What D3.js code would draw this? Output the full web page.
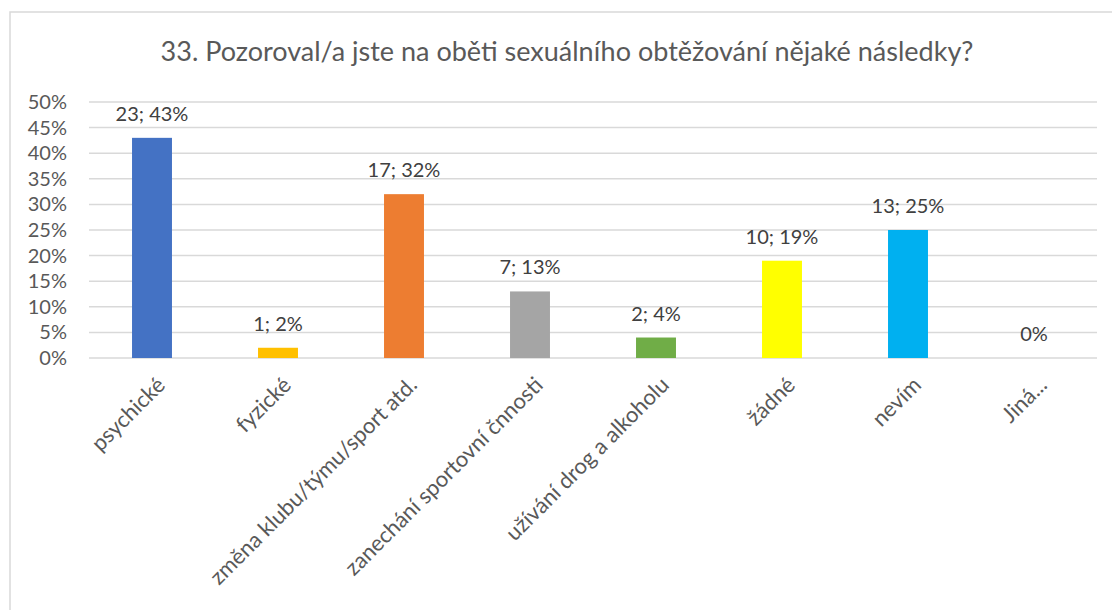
<!DOCTYPE html>
<html>
<head>
<meta charset="utf-8">
<script src="https://cdn.jsdelivr.net/npm/d3@7"></script>
<style>
  body { margin: 0; background: #fff; }
  svg { display: block; font-family: Lato, "Open Sans", sans-serif; }
</style>
</head>
<body>
<script>
// chart data
var categories = ["psychické", "fyzické", "změna klubu/týmu/sport atd.", "zanechání sportovní čnnosti",
                  "užívání drog a alkoholu", "žádné", "nevím", "Jiná..."];
var counts = [23, 1, 17, 7, 2, 10, 13, 0];
var percents = [43, 2, 32, 13, 4, 19, 25, 0];
var colors = ["#4472C4", "#FFC000", "#ED7D31", "#A5A5A5", "#70AD47", "#FFFF00", "#00B0F0", "#5B9BD5"];
var yTicks = [0, 5, 10, 15, 20, 25, 30, 35, 40, 45, 50];
var title = "33. Pozoroval/a jste na oběti sexuálního obtěžování nějaké následky?";

var W = 1112, H = 610;
var plot = {left: 89, right: 1097, top: 102, bottom: 358};

var svg = d3.select("body").append("svg")
    .attr("width", W)
    .attr("height", H);

// chart frame
svg.append("rect")
    .attr("x", 10).attr("y", 12)
    .attr("width", 1120).attr("height", 620)
    .attr("fill", "#fff")
    .attr("stroke", "#d9d9d9")
    .attr("stroke-width", 1.5);

// title
svg.append("text")
    .attr("x", 567).attr("y", 61)
    .attr("text-anchor", "middle")
    .attr("font-size", 27)
    .attr("fill", "#595959")
    .text(title);

// scales
var x = d3.scaleBand()
    .domain(categories)
    .range([plot.left, plot.right])
    .paddingInner(0.683)
    .paddingOuter(0.3415);

var y = d3.scaleLinear()
    .domain([0, 50])
    .range([plot.bottom, plot.top]);

// gridlines
svg.append("g")
  .selectAll("line")
  .data(yTicks)
  .enter().append("line")
    .attr("x1", plot.left).attr("x2", plot.right)
    .attr("y1", function(d) { return y(d); })
    .attr("y2", function(d) { return y(d); })
    .attr("stroke", "#d9d9d9")
    .attr("stroke-width", 1.5);

// y axis
var yAxis = svg.append("g")
    .attr("transform", "translate(" + plot.left + ",0)")
    .call(d3.axisLeft(y).tickValues(yTicks).tickSize(0).tickPadding(22)
      .tickFormat(function(d) { return d + "%"; }));
yAxis.select(".domain").remove();
yAxis.selectAll("text")
    .attr("font-size", 20)
    .attr("font-family", "Lato, 'Open Sans', sans-serif")
    .attr("fill", "#595959");

// bars
var rows = categories.map(function(c, i) {
  return {cat: c, count: counts[i], pct: percents[i], color: colors[i]};
});

svg.append("g")
  .selectAll("rect")
  .data(rows)
  .enter().append("rect")
    .attr("x", function(d) { return x(d.cat); })
    .attr("y", function(d) { return y(d.pct); })
    .attr("width", x.bandwidth())
    .attr("height", function(d) { return y(0) - y(d.pct); })
    .attr("fill", function(d) { return d.color; });

// data labels
svg.append("g")
  .selectAll("text")
  .data(rows)
  .enter().append("text")
    .attr("x", function(d) { return x(d.cat) + x.bandwidth() / 2; })
    .attr("y", function(d) { return y(d.pct) - 17; })
    .attr("text-anchor", "middle")
    .attr("font-size", 20)
    .attr("fill", "#404040")
    .text(function(d) { return d.count > 0 ? d.count + "; " + d.pct + "%" : d.pct + "%"; });

// category labels, rotated
svg.append("g")
  .selectAll("text")
  .data(rows)
  .enter().append("text")
    .attr("transform", function(d) {
      return "translate(" + (x(d.cat) + x.bandwidth() / 2 + 9) + "," + 381 + ") rotate(-45)";
    })
    .attr("text-anchor", "end")
    .attr("dy", "0.35em")
    .attr("font-size", 22)
    .attr("fill", "#595959")
    .text(function(d) { return d.cat; });
</script>
</body>
</html>
